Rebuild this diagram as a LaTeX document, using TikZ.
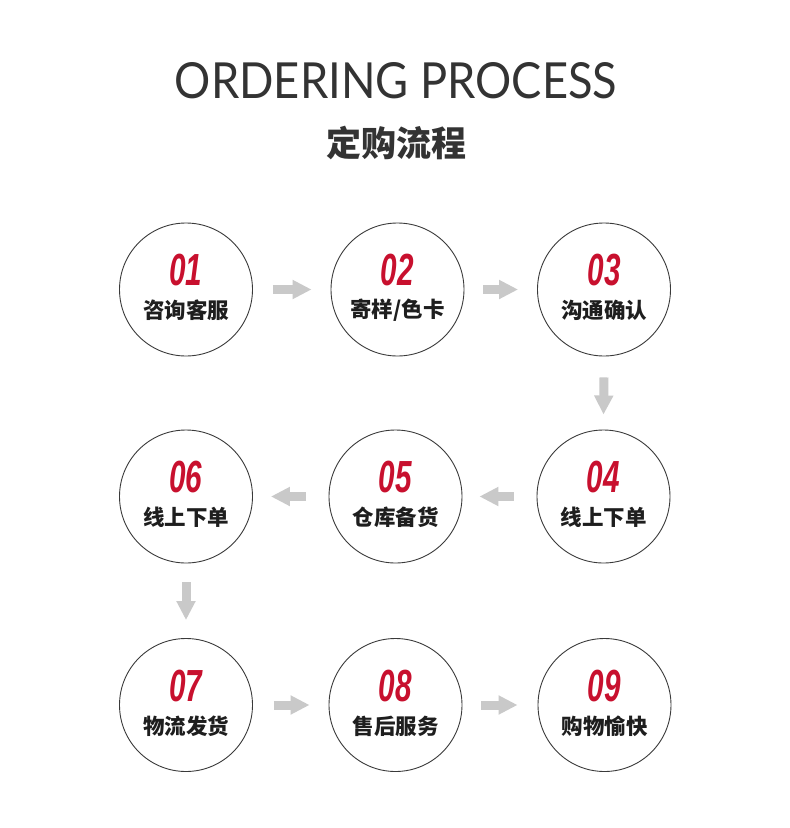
\documentclass[tikz,border=0pt]{standalone}
\usepackage{fontspec}
\usetikzlibrary{arrows.meta,calc}
\setmainfont{Liberation Sans}
\newfontfamily\cjk{Noto Sans CJK SC}
\newfontfamily\titlefont{Lato}
\definecolor{circ}{HTML}{3A3A3A}
\definecolor{numred}{HTML}{C8102E}
\definecolor{labcol}{HTML}{1E1E1E}
\definecolor{arrgray}{HTML}{C9C9C9}
\definecolor{titlecol}{HTML}{333333}
\begin{document}
\begin{tikzpicture}[x=1pt,y=-1pt]
\tikzset{
 stepcircle/.style={circle,draw=circ,line width=0.9pt,minimum size=133pt,inner sep=0pt},
 num/.style={text=numred,inner sep=0pt,font=\fontsize{45}{45}\selectfont\bfseries\itshape},
 lab/.style={text=labcol,inner sep=0pt,font=\cjk\bfseries\fontsize{21.5}{22}\selectfont},
 garrow/.style={draw=arrgray,line width=9pt,-{Triangle[length=19pt,width=18pt]}}
}
\useasboundingbox (0,0) rectangle (790,828);
\fill[white] (0,0) rectangle (790,828);
\node[inner sep=0pt,text=titlecol] (title) at (396,81) {\resizebox{442pt}{36pt}{\titlefont ORDERING PROCESS}};
\node[inner sep=0pt,text=titlecol,font=\cjk\bfseries\fontsize{35}{36}\selectfont] (subtitle) at (396,143) {定购流程};
\foreach \n/\x/\y/\t in {1/186/289.5/{咨询客服}, 2/397.5/289.5/{寄样/色卡}, 3/604/289.5/{沟通确认},
  4/603.5/496.5/{线上下单}, 5/395.5/496.5/{仓库备货}, 6/186/496.5/{线上下单},
  7/186/705/{物流发货}, 8/395.5/705/{售后服务}, 9/604.5/705/{购物愉快}}{
  \node[stepcircle] (c\n) at (\x,\y) {};
  \node[num] (n\n) at (\x,\y-19.5) {\scalebox{0.66}[1]{0\n}};
  \node[lab] (l\n) at (\x,\y+21) {\t};
}
\draw[garrow] ($(c1.east)+(20,0)$) -- ($(c2.west)+(-19,0)$);
\draw[garrow] ($(c2.east)+(19,0)$) -- ($(c3.west)+(-19,0)$);
\draw[garrow] ($(c3.south)+(0,21)$) -- ($(c4.north)+(0,-15)$);
\draw[garrow] ($(c4.west)+(-23,0)$) -- ($(c5.east)+(17,0)$);
\draw[garrow] ($(c5.west)+(-23,0)$) -- ($(c6.east)+(18,0)$);
\draw[garrow] ($(c6.south)+(0,19)$) -- ($(c7.north)+(0,-18)$);
\draw[garrow] ($(c7.east)+(21,0)$) -- ($(c8.west)+(-19,0)$);
\draw[garrow] ($(c8.east)+(19,0)$) -- ($(c9.west)+(-20,0)$);
\end{tikzpicture}
\end{document}
